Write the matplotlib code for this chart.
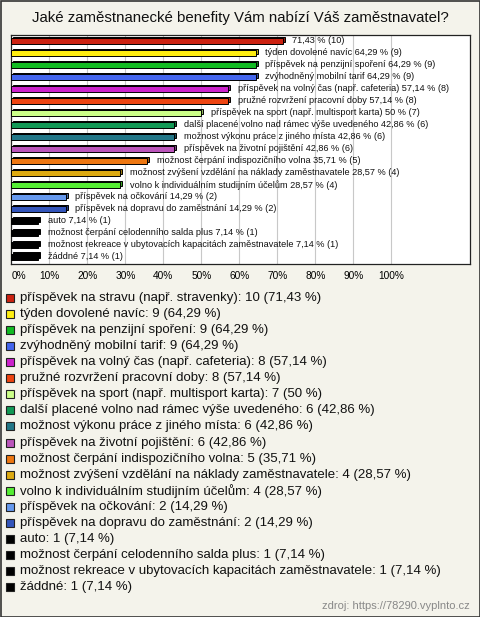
import matplotlib
matplotlib.use("Agg")
import matplotlib.pyplot as plt
from matplotlib.patches import Rectangle
from matplotlib.colors import to_rgb

plt.rcParams['font.family'] = ['Liberation Sans', 'DejaVu Sans']

# data
title = "Jaké zaměstnanecké benefity Vám nabízí Váš zaměstnavatel?"
categories = [
    "příspěvek na stravu (např. stravenky)",
    "týden dovolené navíc",
    "příspěvek na penzijní spoření",
    "zvýhodněný mobilní tarif",
    "příspěvek na volný čas (např. cafeteria)",
    "pružné rozvržení pracovní doby",
    "příspěvek na sport (např. multisport karta)",
    "další placené volno nad rámec výše uvedeného",
    "možnost výkonu práce z jiného místa",
    "příspěvek na životní pojištění",
    "možnost čerpání indispozičního volna",
    "možnost zvýšení vzdělání na náklady zaměstnavatele",
    "volno k individuálním studijním účelům",
    "příspěvek na očkování",
    "příspěvek na dopravu do zaměstnání",
    "auto",
    "možnost čerpání celodenního salda plus",
    "možnost rekreace v ubytovacích kapacitách zaměstnavatele",
    "žáddné",
]
counts = [10, 9, 9, 9, 8, 8, 7, 6, 6, 6, 5, 4, 4, 2, 2, 1, 1, 1, 1]
percents = [71.43, 64.29, 64.29, 64.29, 57.14, 57.14, 50, 42.86, 42.86, 42.86,
            35.71, 28.57, 28.57, 14.29, 14.29, 7.14, 7.14, 7.14, 7.14]
pct_text = ["71,43", "64,29", "64,29", "64,29", "57,14", "57,14", "50", "42,86",
            "42,86", "42,86", "35,71", "28,57", "28,57", "14,29", "14,29",
            "7,14", "7,14", "7,14", "7,14"]
colors = ["#cc2211", "#ffee11", "#11bb22", "#4466ee", "#cc22cc", "#ee4411",
          "#ccff88", "#119955", "#227788", "#bb55bb", "#ee7711", "#ddaa11",
          "#55ee33", "#6699ee", "#3355bb", "#000000", "#000000", "#000000",
          "#000000"]
xticks = [0, 10, 20, 30, 40, 50, 60, 70, 80, 90, 100]
source = "zdroj: https://78290.vyplnto.cz"

n = len(categories)
W, H = 480, 617
bg = "#f4f3eb"
fig = plt.figure(figsize=(W / 100, H / 100), dpi=100, facecolor=bg)

# chart area
ax = fig.add_axes([11.3 / W, 1 - 264 / H, (470 - 11.3) / W, (264 - 35) / H])
ax.set_facecolor("white")
ax.set_xlim(0, (470 - 11.3) / 3.8)
ax.set_ylim(n - 0.4, -0.5)
for x in xticks[1:]:
    ax.axvline(x, color="#c8c8c8", lw=0.8, zorder=0)

ys = list(range(n))
h = 0.48
dx, dy = 0.5, 0.12
darker = [tuple(v * 0.7 for v in to_rgb(c)) for c in colors]
ax.barh([y - dy for y in ys], percents, left=dx, height=h, color=darker,
        edgecolor="black", lw=0.7, zorder=2)
ax.barh(ys, percents, height=h, color=colors, edgecolor="black", lw=0.7, zorder=3)

for i in range(n):
    name = "" if i == 0 else categories[i] + " "
    ax.annotate(f"{name}{pct_text[i]} % ({counts[i]})", (percents[i], ys[i]),
                xytext=(7, 0), textcoords="offset points", va="center",
                ha="left", fontsize=6.6, color="#111111", zorder=4)

ax.set_xticks(xticks)
labels = ax.set_xticklabels([f"{x}%" for x in xticks], fontsize=7.3)
labels[0].set_ha("left")
ax.tick_params(axis="x", length=0, pad=5)
ax.set_yticks([])
for s in ax.spines.values():
    s.set_color("#222222")
    s.set_linewidth(0.9)

# overlay in pixel coordinates for title, legend and source
ov = fig.add_axes([0, 0, 1, 1], facecolor="none")
ov.set_xlim(0, W)
ov.set_ylim(H, 0)
ov.axis("off")
ov.text(W / 2, 18, title, ha="center", va="center", fontsize=10.8, color="#111111")

for i in range(n):
    y = 298 + i * 16.06
    ov.add_patch(Rectangle((6, y - 4), 8, 8, facecolor=colors[i],
                           edgecolor="#222222", lw=0.8))
    ov.text(19.5, y, f"{categories[i]}: {counts[i]} ({pct_text[i]} %)",
            ha="left", va="center", fontsize=9.5, color="#111111")

ov.text(470, 606, source, ha="right", va="center", fontsize=8, color="#888888")
ov.add_patch(Rectangle((0.5, 0.5), W - 1, H - 1, facecolor="none",
                       edgecolor="#333333", lw=1.2))

fig.savefig("out.png", dpi=100, facecolor=bg)
